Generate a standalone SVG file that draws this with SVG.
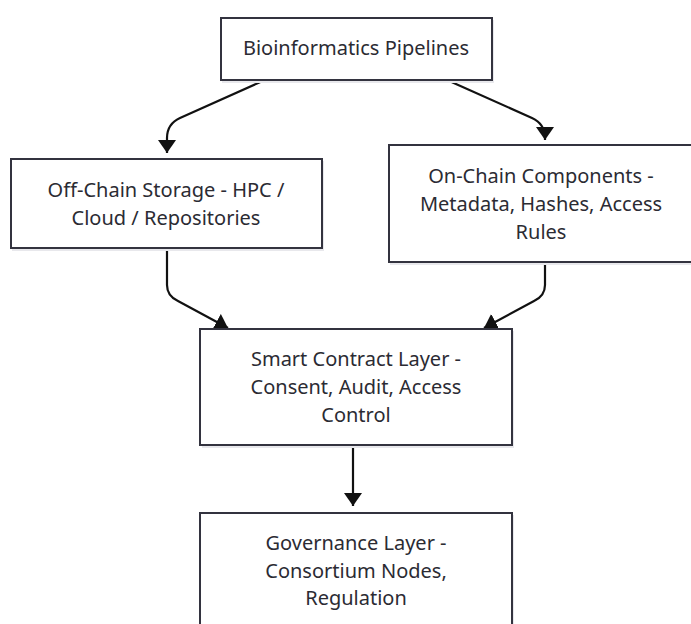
<svg xmlns="http://www.w3.org/2000/svg" width="691" height="624" viewBox="0 0 691 624">
<style>
.box{fill:#ffffff;stroke:#33333f;stroke-width:2}
.sh{fill:#e8e8ec;stroke:none}
.lbl{font-family:"Noto Sans","DejaVu Sans",sans-serif;font-size:20px;fill:#2b2b33;text-anchor:middle}
.edge{fill:none;stroke:#111111;stroke-width:2.2}
</style>
<defs>
<marker id="arr" markerUnits="userSpaceOnUse" markerWidth="14" markerHeight="18" refX="13" refY="9" orient="auto" viewBox="0 0 14 18">
<path d="M0,0 L13,9 L0,18 z" fill="#111111"/>
</marker>
</defs>
<rect width="691" height="624" fill="#ffffff"/>
<g id="connectors">
<path class="edge" d="M265,80 L180,118 Q167,124 167,138 L167,153" marker-end="url(#arr)"/>
<path class="edge" d="M447,80 L532,118 Q545,124 545,138 L545,140" marker-end="url(#arr)"/>
<path class="edge" d="M167,248 L167,285 Q167,296 178,301 L228,328" marker-end="url(#arr)"/>
<path class="edge" d="M545,262 L545,285 Q545,296 534,301 L484,328" marker-end="url(#arr)"/>
<path class="edge" d="M353,445 L353,506" marker-end="url(#arr)"/>
</g>
<g id="n_bio">
<rect class="sh" x="222" y="20" width="272" height="63"/>
<rect class="box" x="221" y="18" width="271" height="62"/>
<text class="lbl" x="356" y="55">Bioinformatics Pipelines</text>
</g>
<g id="n_off">
<rect class="sh" x="12" y="161" width="312" height="90"/>
<rect class="box" x="11" y="159" width="311" height="89"/>
<text class="lbl" x="166" y="197">Off-Chain Storage - HPC /</text>
<text class="lbl" x="166" y="225">Cloud / Repositories</text>
</g>
<g id="n_on">
<rect class="sh" x="390" y="147" width="306" height="118"/>
<rect class="box" x="389" y="145" width="306" height="117"/>
<text class="lbl" x="541" y="183">On-Chain Components -</text>
<text class="lbl" x="541" y="211">Metadata, Hashes, Access</text>
<text class="lbl" x="541" y="239">Rules</text>
</g>
<g id="n_smart">
<rect class="sh" x="202" y="331" width="312" height="117"/>
<rect class="box" x="200" y="329" width="312" height="116"/>
<text class="lbl" x="356" y="366">Smart Contract Layer -</text>
<text class="lbl" x="356" y="394">Consent, Audit, Access</text>
<text class="lbl" x="356" y="422">Control</text>
</g>
<g id="n_gov">
<rect class="sh" x="202" y="515" width="312" height="130"/>
<rect class="box" x="200" y="513" width="312" height="130"/>
<text class="lbl" x="356" y="550">Governance Layer -</text>
<text class="lbl" x="356" y="578">Consortium Nodes,</text>
<text class="lbl" x="356" y="605">Regulation</text>
</g>
</svg>
